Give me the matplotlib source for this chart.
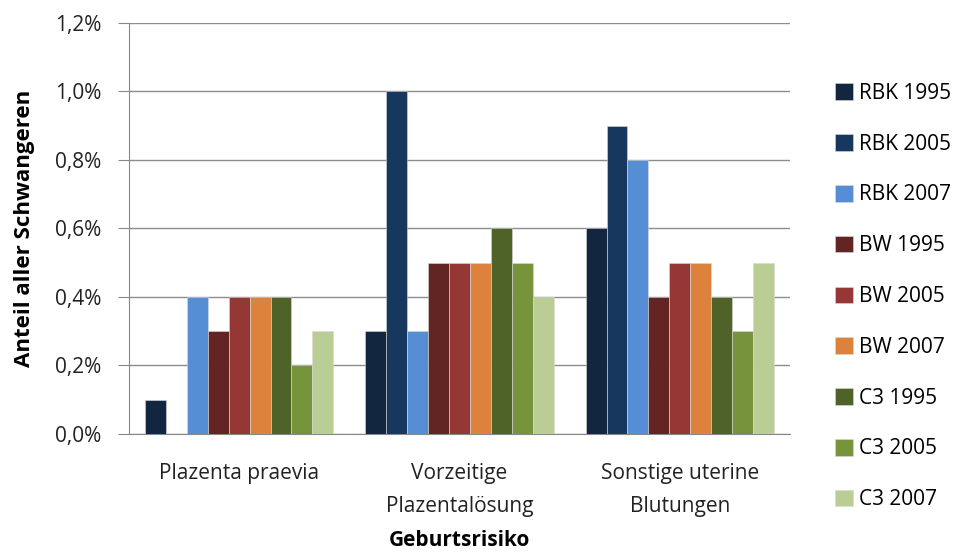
import matplotlib.pyplot as plt
import numpy as np
from matplotlib.patches import Patch
from matplotlib.ticker import FuncFormatter

plt.rcParams['font.family'] = ['Open Sans', 'DejaVu Sans']

categories = ["Plazenta praevia", "Vorzeitige\nPlazentalösung", "Sonstige uterine\nBlutungen"]
series = ["RBK 1995", "RBK 2005", "RBK 2007", "BW 1995", "BW 2005", "BW 2007",
          "C3 1995", "C3 2005", "C3 2007"]
rbk_1995 = [0.1, 0.3, 0.6]
rbk_2005 = [0.0, 1.0, 0.9]
rbk_2007 = [0.4, 0.3, 0.8]
bw_1995 = [0.3, 0.5, 0.4]
bw_2005 = [0.4, 0.5, 0.5]
bw_2007 = [0.4, 0.5, 0.5]
c3_1995 = [0.4, 0.6, 0.4]
c3_2005 = [0.2, 0.5, 0.3]
c3_2007 = [0.3, 0.4, 0.5]
values = [rbk_1995, rbk_2005, rbk_2007, bw_1995, bw_2005, bw_2007, c3_1995, c3_2005, c3_2007]

colors = ["#12263f", "#17375e", "#558ed5", "#632523", "#953735", "#dc823c",
          "#4f6228", "#77933c", "#b9cd94"]

fig = plt.figure(figsize=(9.69, 5.6), dpi=100)
ax = fig.add_axes([0.1331, 0.225, 0.6821, 0.734])

x = np.arange(len(categories))
w = 0.095
for i, (vals, c) in enumerate(zip(values, colors)):
    ax.bar(x + (i - 4) * w, vals, width=w, color=c, edgecolor="#d9d9d9", linewidth=0.4, zorder=3)

ax.set_xlim(-0.5, 2.5)
ax.set_ylim(0, 1.2)
ax.set_yticks(np.arange(0, 1.21, 0.2))
ax.yaxis.set_major_formatter(FuncFormatter(lambda v, p: f"{v:.1f}%".replace(".", ",")))
ax.set_xticks(x)
ax.set_xticklabels(categories, linespacing=1.75)
ax.tick_params(axis="x", length=0, pad=21, labelsize=15, labelcolor="#222222")
ax.tick_params(axis="y", length=8, color="#888888", labelsize=15, labelcolor="#222222", pad=12)

ax.grid(axis="y", color="#8c8c8c", linewidth=1.0, zorder=0)
for s in ["top", "right"]:
    ax.spines[s].set_visible(False)
ax.spines["left"].set_color("#888888")
ax.spines["bottom"].set_color("#888888")

ax.set_ylabel("Anteil aller Schwangeren", fontsize=16, fontweight="bold", labelpad=14)
ax.set_xlabel("Geburtsrisiko", fontsize=15, fontweight="bold", labelpad=9)

handles = [Patch(facecolor=c, edgecolor="#d9d9d9", linewidth=0.4) for c in colors]
fig.legend(handles, series, loc="upper left", bbox_to_anchor=(0.862, 0.852), frameon=False,
           fontsize=15, handlelength=0.85, handleheight=0.85, handletextpad=0.3,
           labelspacing=1.43, borderaxespad=0, borderpad=0)

fig.savefig("out.png", dpi=100)
